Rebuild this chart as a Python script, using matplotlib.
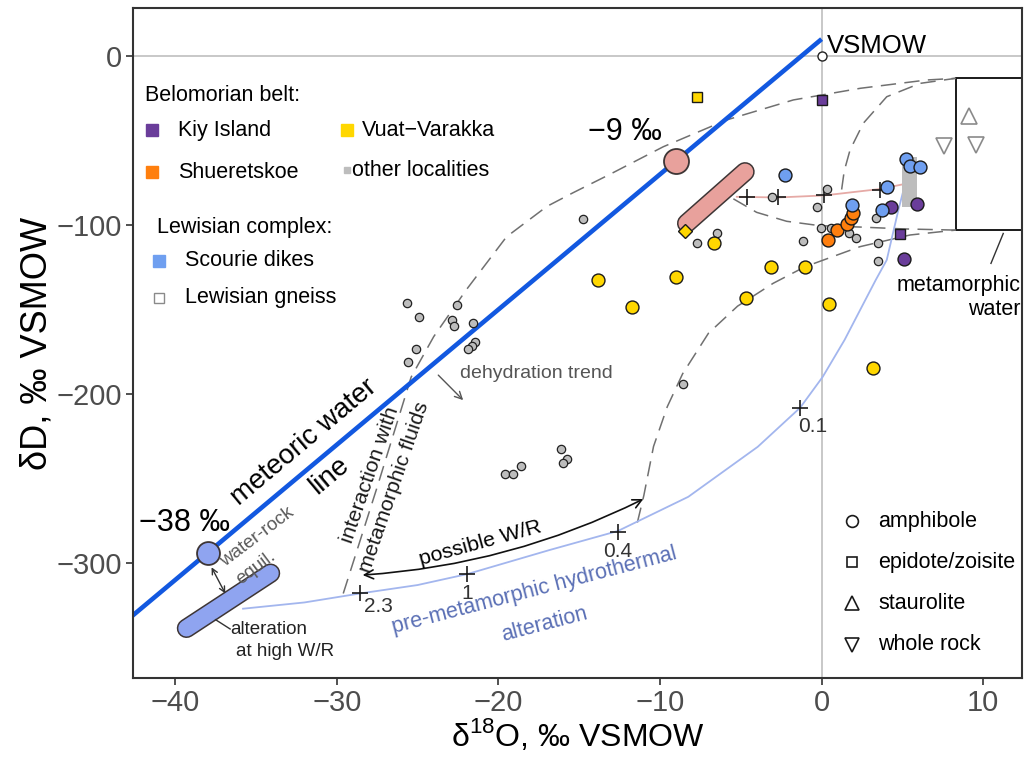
import matplotlib
matplotlib.use("Agg")
import matplotlib.pyplot as plt
from matplotlib.patches import Rectangle

plt.rcParams['font.family'] = ['Liberation Sans', 'DejaVu Sans']
plt.rcParams['mathtext.fontset'] = 'custom'
plt.rcParams['mathtext.rm'] = 'Liberation Sans'
LABEL_FONT = ['Liberation Sans', 'DejaVu Sans']

# ---------------- data (d18O, dD in permil VSMOW) ----------------
# other localities, amphibole
other_d18o = [-25.67, -24.9, -22.58, -22.89, -22.75, -21.55, -21.45, -21.65, -21.86, -25.1, -25.58,
              -19.59, -19.12, -18.6, -16.13, -15.77, -15.98, -8.6, -14.78,
              -7.73, -6.49, -3.07, 0.31, -0.27, -1.13, -0.04, 0.56, 1.68, 2.13, 3.35, 3.49, 3.49]
other_dD = [-146.3, -154.2, -147.5, -156.2, -159.6, -158.2, -169.4, -171.4, -173.6, -173.4, -180.9,
            -247.5, -247.5, -242.4, -232.7, -238.6, -241.0, -194.3, -96.3,
            -110.8, -104.9, -83.6, -78.5, -89.5, -109.3, -102.0, -101.6, -104.9, -107.5, -96.0, -110.8, -121.0]

# Vuat-Varakka
vv_amph_d18o = [-13.82, -11.75, -9.01, -6.66, -4.70, -3.13, -1.03, 0.48, 3.2]
vv_amph_dD = [-132.5, -148.7, -131.0, -110.8, -143.0, -124.7, -124.7, -147.0, -184.4]
vv_ep_d18o = [-7.73]
vv_ep_dD = [-24.1]
vv_other_d18o = [-8.45]
vv_other_dD = [-103.6]

# Kiy Island
kiy_amph_d18o = [4.28, 5.88, 5.12]
kiy_amph_dD = [-89.3, -87.6, -120.3]
kiy_ep_d18o = [0.0, 4.85]
kiy_ep_dD = [-26.0, -105.3]

# Shueretskoe
sh_amph_d18o = [0.4, 0.93, 1.57, 1.82, 1.94]
sh_amph_dD = [-109.0, -103.0, -99.4, -96.0, -93.0]

# Scourie dikes
sc_amph_d18o = [-2.26, 1.86, 3.74, 4.03, 5.22, 5.47, 6.09]
sc_amph_dD = [-70.2, -88.4, -91.3, -77.7, -61.0, -65.1, -65.5]

# Lewisian gneiss
lg_st_d18o = [9.14]
lg_st_dD = [-35.5]
lg_wr_d18o = [9.55, 7.57]
lg_wr_dD = [-52.7, -53.0]

# other localities range bar
bar_d18o = 5.45
bar_dD_low, bar_dD_high = -89.2, -60.0

# metamorphic water field
meta_d18o = [8.3, 14.0]
meta_dD = [-103.0, -13.2]

# meteoric water line and end-member waters
mwl_d18o = [-43.0, 0.0]
mwl_dD = [-334.0, 10.0]
water_d18o = [-9.0, -38.0]
water_dD = [-62.0, -294.0]
water_labels = ['\u22129 \u2030', '\u221238 \u2030']

# altered rock fields
pink_field_d18o = [-8.35, -4.74]
pink_field_dD = [-99.0, -68.5]
blue_field_d18o = [-39.3, -34.1]
blue_field_dD = [-338.6, -306.0]

# pre-metamorphic hydrothermal alteration curve with W/R marks
alt_d18o = [-35.8, -32.0, -28.57, -25.0, -21.92, -16.84, -12.6, -8.25, -3.95, -1.33,
            0.07, 1.42, 2.49, 3.35, 4.03, 4.75, 5.05]
alt_dD = [-327.0, -323.3, -318.0, -313.0, -306.5, -292.3, -281.0, -260.8, -231.2, -208.1,
          -189.8, -168.0, -148.3, -132.5, -120.7, -91.1, -80.0]
wr_d18o = [-28.57, -21.92, -12.62, -1.33]
wr_dD = [-318.0, -306.5, -281.5, -208.1]
wr_labels = ['2.3', '1', '0.4', '0.1']

# dehydration path of the high-d18O field
pink_path_d18o = [-5.25, -2.7, 0.15, 3.61, 5.04]
pink_path_dD = [-83.3, -83.7, -82.5, -78.7, -75.9]
pink_cross_d18o = [-4.6, -2.68, 0.15, 3.61]
pink_cross_dD = [-83.6, -83.6, -82.2, -79.3]

# mixing envelopes
env1_d18o = [-29.6, -27.5, -25.4, -24.0, -22.0, -19.5, -17.0, -15.4, -13.1, -9.8, -5.9, -1.75, 2.4, 6.5, 8.3]
env1_dD = [-318.0, -255.0, -190.0, -166.0, -138.5, -107.0, -89.0, -81.0, -70.0, -53.7, -37.9, -26.0, -19.1, -14.2, -13.2]
env2_d18o = [1.24, 1.4, 1.76, 2.58, 4.03, 6.09, 8.3]
env2_dD = [-79.0, -68.0, -55.6, -39.8, -24.1, -16.2, -13.2]
env3_d18o = [-5.46, -4.02, -2.16, -0.1, 2.38, 5.06, 8.3]
env3_dD = [-84.5, -92.5, -97.8, -100.4, -101.2, -102.3, -103.0]
env4_d18o = [-11.4, -11.0, -10.4, -9.55, -8.6, -7.0, -5.2, -3.0, -1.03, 2.38, 5.47, 8.3]
env4_dD = [-276.0, -260.0, -231.0, -207.5, -188.0, -164.0, -148.0, -134.5, -124.7, -112.8, -105.9, -103.0]

# ---------------- colours ----------------
C_KIY = '#6a3d9a'
C_SH = '#ff7f0e'
C_VV = '#ffd700'
C_OTHER = '#bdbdbd'
C_SC = '#6f9ff0'
C_MWL = '#1258e0'
C_ALT = '#a3b6ee'
C_PINK = '#e8a19c'
C_BLUEF = '#8fa4f0'
C_DASH = '#707070'

fig = plt.figure(figsize=(10.24, 7.61), dpi=100)
ax = fig.add_axes([133 / 1024, 83 / 761, 889 / 1024, 670 / 761])
ax.set_xlim(-42.61, 12.4)
ax.set_ylim(-368.0, 28.4)

ax.axhline(0, color='#c4c4c4', lw=1.3, zorder=0)
ax.axvline(0, color='#c4c4c4', lw=1.3, zorder=0)

# metamorphic water box
ax.add_patch(Rectangle((meta_d18o[0], meta_dD[0]), meta_d18o[1] - meta_d18o[0], meta_dD[1] - meta_dD[0],
                       facecolor='white', edgecolor='#1a1a1a', lw=1.4, zorder=2))
ax.plot([11.24, 10.48], [-105.0, -122.7], color='#333333', lw=1.0, zorder=2)

# envelopes
for xs, ys in [(env1_d18o, env1_dD), (env2_d18o, env2_dD), (env3_d18o, env3_dD), (env4_d18o, env4_dD)]:
    ax.plot(xs, ys, color=C_DASH, lw=1.1, dashes=(10, 5.5), zorder=2)

# meteoric water line
ax.plot(mwl_d18o, mwl_dD, color=C_MWL, lw=3.3, solid_capstyle='butt', zorder=3)

# alteration curve and dehydration path
ax.plot(alt_d18o, alt_dD, color=C_ALT, lw=1.3, zorder=3)
ax.plot(pink_path_d18o, pink_path_dD, color='#e6aaa6', lw=1.3, zorder=3)

# other-localities range bar
ax.bar(bar_d18o, bar_dD_high - bar_dD_low, bottom=bar_dD_low, width=0.93, color=C_OTHER, zorder=3)

# altered rock fields (rounded bars)
for xs, ys, fc in [(pink_field_d18o, pink_field_dD, C_PINK), (blue_field_d18o, blue_field_dD, C_BLUEF)]:
    ax.plot(xs, ys, color='#3d3535', lw=14.0, solid_capstyle='round', zorder=4)
    ax.plot(xs, ys, color=fc, lw=11.8, solid_capstyle='round', zorder=4)

# end-member waters on the MWL
ax.plot(water_d18o[:1], water_dD[:1], 'o', ms=18, mfc=C_PINK, mec='#3d3535', mew=1.3, zorder=5)
ax.plot(water_d18o[1:], water_dD[1:], 'o', ms=16.5, mfc=C_BLUEF, mec='#3d3535', mew=1.3, zorder=5)
ax.text(water_d18o[0] - 3.2, water_dD[0] + 17, water_labels[0], fontsize=22, ha='center', va='center', zorder=6)
ax.text(water_d18o[1] - 1.4, water_dD[1] + 18, water_labels[1], fontsize=22, ha='center', va='center', zorder=6)

# crosses
ax.plot(wr_d18o, wr_dD, '+', color='#1a1a1a', ms=11, mew=1.2, zorder=6)
ax.plot(pink_cross_d18o, pink_cross_dD, '+', color='#1a1a1a', ms=11, mew=1.2, zorder=6)
wr_offsets = [(13, -9.5), (0, -14), (0, -14.4), (9.4, -13.7)]
for x, y, lab, off in zip(wr_d18o, wr_dD, wr_labels, wr_offsets):
    ax.annotate(lab, (x, y), xytext=off, textcoords='offset points', ha='center', va='center',
                fontsize=15, color='#333333', zorder=6)

# samples
ax.plot(other_d18o, other_dD, 'o', ms=6, mfc=C_OTHER, mec='#222222', mew=0.9, zorder=6)
ax.plot([0.0], [0.0], 'o', ms=6.5, mfc='white', mec='#222222', mew=1.0, zorder=6)
ax.plot(vv_amph_d18o, vv_amph_dD, 'o', ms=9.3, mfc=C_VV, mec='#1a1a1a', mew=1.0, zorder=7)
ax.plot(vv_ep_d18o, vv_ep_dD, 's', ms=7.8, mfc=C_VV, mec='#1a1a1a', mew=1.0, zorder=7)
ax.plot(vv_other_d18o, vv_other_dD, 'D', ms=7, mfc=C_VV, mec='#1a1a1a', mew=1.0, zorder=7)
ax.plot(kiy_amph_d18o, kiy_amph_dD, 'o', ms=9.3, mfc=C_KIY, mec='#1a1a1a', mew=1.0, zorder=7)
ax.plot(kiy_ep_d18o, kiy_ep_dD, 's', ms=7.8, mfc=C_KIY, mec='#1a1a1a', mew=1.0, zorder=7)
ax.plot(sh_amph_d18o, sh_amph_dD, 'o', ms=9.3, mfc=C_SH, mec='#1a1a1a', mew=1.0, zorder=7)
ax.plot(sc_amph_d18o, sc_amph_dD, 'o', ms=9.3, mfc=C_SC, mec='#1a1a1a', mew=1.0, zorder=8)
ax.plot(lg_st_d18o, lg_st_dD, '^', ms=12, mfc='white', mec='#8a8a8a', mew=1.2, zorder=7)
ax.plot(lg_wr_d18o, lg_wr_dD, 'v', ms=12, mfc='white', mec='#8a8a8a', mew=1.2, zorder=7)

# arrows
ax.annotate('', xy=(-28.4, -307.1), xytext=(-11.03, -262.1),
            arrowprops=dict(arrowstyle='<->', color='#111111', lw=1.2, mutation_scale=16,
                            connectionstyle='arc3,rad=-0.1', shrinkA=0, shrinkB=0), zorder=6)
ax.annotate('', xy=(-37.75, -302.5), xytext=(-36.9, -318.0),
            arrowprops=dict(arrowstyle='<->', color='#333333', lw=1.0, mutation_scale=10,
                            shrinkA=0, shrinkB=0), zorder=6)
ax.annotate('', xy=(-22.18, -203.6), xytext=(-23.72, -188.8),
            arrowprops=dict(arrowstyle='->', color='#555555', lw=1.0, mutation_scale=13,
                            shrinkA=0, shrinkB=0), zorder=6)
ax.plot([-37.5, -36.6], [-333.5, -339.0], color='#333333', lw=1.0, zorder=6)

# annotations
ax.text(0.33, 5.9, 'VSMOW', fontsize=18.5, ha='left', va='center', zorder=6)
ax.text(-32.05, -228.6, 'meteoric water', fontsize=20, rotation=40, rotation_mode='anchor',
        ha='center', va='center', zorder=6)
ax.text(-30.45, -248.5, 'line', fontsize=20, rotation=40, rotation_mode='anchor',
        ha='center', va='center', zorder=6)
ax.text(-27.94, -248.0, 'interaction with', fontsize=15.4, rotation=71, rotation_mode='anchor',
        ha='center', va='center', color='#1a1a1a', zorder=6)
ax.text(-26.45, -254.8, 'metamorphic fluids', fontsize=15.4, rotation=71, rotation_mode='anchor',
        ha='center', va='center', color='#1a1a1a', zorder=6)
ax.text(-22.38, -187.8, 'dehydration trend', fontsize=14, ha='left', va='center', color='#555555', zorder=6)
ax.text(-34.9, -284.4, 'water-rock', fontsize=13.5, rotation=37, rotation_mode='anchor',
        ha='center', va='center', color='#5a5a5a', zorder=6)
ax.text(-35.0, -302.6, 'equil.', fontsize=13.5, rotation=37, rotation_mode='anchor',
        ha='center', va='center', color='#5a5a5a', zorder=6)
ax.text(-36.6, -339.6, 'alteration', fontsize=13.5, ha='left', va='center', color='#222222', zorder=6)
ax.text(-36.25, -352.5, 'at high W/R', fontsize=13.5, ha='left', va='center', color='#222222', zorder=6)
ax.text(-21.1, -288.0, 'possible W/R', fontsize=15.4, rotation=15.3, rotation_mode='anchor',
        ha='center', va='center', zorder=6)
ax.text(-17.78, -316.3, 'pre-metamorphic hydrothermal', fontsize=15.5, rotation=14.7, rotation_mode='anchor',
        ha='center', va='center', color='#5a6fb5', zorder=6)
ax.text(-17.18, -336.3, 'alteration', fontsize=15.5, rotation=14.7, rotation_mode='anchor',
        ha='center', va='center', color='#5a6fb5', zorder=6)
ax.text(12.29, -135.5, 'metamorphic', fontsize=15.5, ha='right', va='center', zorder=6)
ax.text(12.29, -149.7, 'water', fontsize=15.5, ha='right', va='center', zorder=6)

# locality legend (axes fraction)
T = ax.transAxes
LFS = 15.5
ax.text(0.0135, 0.8687, 'Belomorian belt:', transform=T, fontsize=LFS, va='center', ha='left')
leg_items = [
    (0.0214, 0.8179, 0.0506, 'Kiy Island', C_KIY, C_KIY, 8.6),
    (0.2407, 0.8179, 0.2576, 'Vuat\u2212Varakka', C_VV, C_VV, 8.6),
    (0.0214, 0.7552, 0.0506, 'Shueretskoe', C_SH, C_SH, 8.6),
    (0.2407, 0.7582, 0.2464, 'other localities', C_OTHER, C_OTHER, 5.0),
    (0.0292, 0.6224, 0.0585, 'Scourie dikes', C_SC, C_SC, 8.6),
    (0.0292, 0.5672, 0.0585, 'Lewisian gneiss', 'white', '#8a8a8a', 7.6),
]
ax.text(0.0270, 0.6731, 'Lewisian complex:', transform=T, fontsize=LFS, va='center', ha='left')
for mx, my, tx, lab, fc, ec, ms in leg_items:
    ax.plot([mx], [my], 's', transform=T, ms=ms, mfc=fc, mec=ec, mew=1.0, zorder=9)
    ax.text(tx, my, lab, transform=T, fontsize=LFS, va='center', ha='left', zorder=9)

# mineral legend
min_items = [('o', 'amphibole', 0.2343, 8.5), ('s', 'epidote/zoisite', 0.1731, 7.6),
             ('^', 'staurolite', 0.1119, 10.5), ('v', 'whole rock', 0.0493, 10.5)]
for mk, lab, my, ms in min_items:
    ax.plot([0.8088], [my], mk, transform=T, ms=ms, mfc='white', mec='#1a1a1a', mew=1.2, zorder=9)
    ax.text(0.838, my, lab, transform=T, fontsize=LFS, va='center', ha='left', zorder=9)

# axes styling
for s in ax.spines.values():
    s.set_linewidth(1.5)
    s.set_color('#333333')
    s.set_zorder(10)
ax.set_xticks([-40, -30, -20, -10, 0, 10])
ax.set_yticks([0, -100, -200, -300])
ax.tick_params(length=5, width=1.2, color='#333333', labelsize=21, labelcolor='#4d4d4d', pad=3)
ax.set_xlabel('\u03b4$^{18}$O, \u2030 VSMOW', fontsize=23, family=LABEL_FONT, labelpad=0)
ax.set_ylabel('\u03b4D, \u2030 VSMOW', fontsize=26, family=LABEL_FONT, labelpad=1)

fig.savefig('out.png', dpi=100, facecolor='white')
